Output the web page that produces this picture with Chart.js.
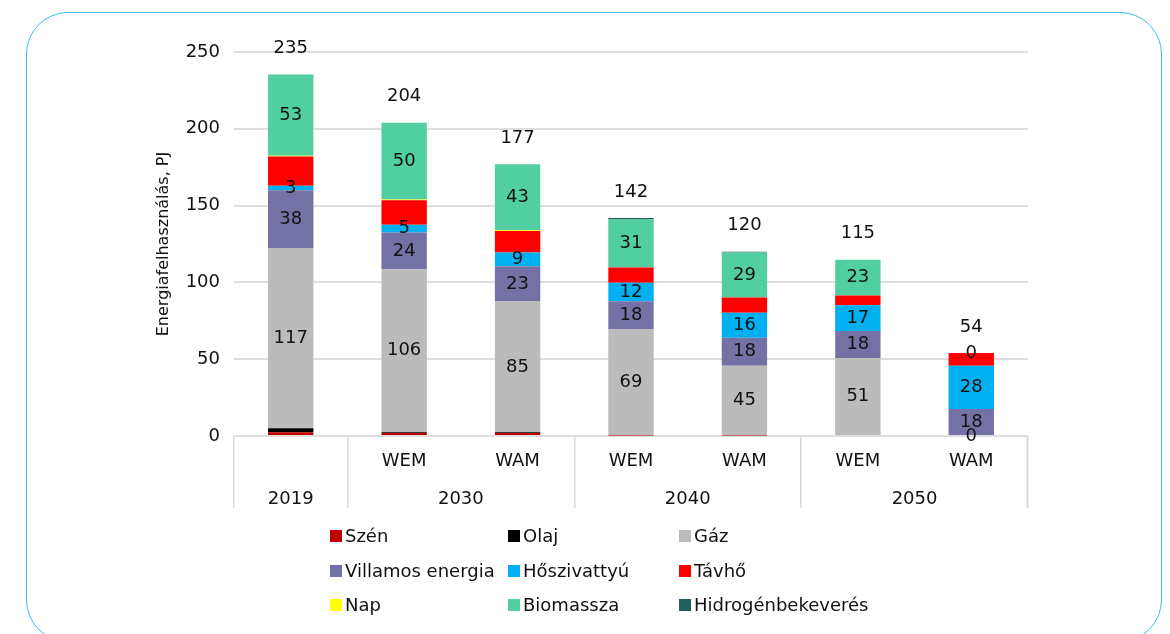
<!DOCTYPE html>
<html><head><meta charset="utf-8">
<script src="https://cdn.jsdelivr.net/npm/chart.js@4.4.1/dist/chart.umd.min.js"></script>
<style>
html,body{margin:0;padding:0;background:#fff;}
body{width:1170px;height:634px;position:relative;overflow:hidden;font-family:'DejaVu Sans',sans-serif;}
#frame{position:absolute;left:26px;top:12px;width:1136px;height:630px;border:1.6px solid #35C2E8;border-radius:42px;box-sizing:border-box;}
#wrap{position:absolute;left:0;top:0;width:1170px;height:520px;}
#legend{position:absolute;left:0;top:0;width:1170px;height:634px;}
.li{position:absolute;display:flex;align-items:center;font-size:18px;color:#111;white-space:nowrap;height:24px;line-height:24px;}
.sw{width:12px;height:12px;margin-right:3px;flex:none;}
</style></head><body>
<div id="frame"></div>
<div id="wrap"><canvas id="c" width="1170" height="520"></canvas></div>
<div id="legend"></div>
<script>
// ---- data ----
const categories = ['', 'WEM', 'WAM', 'WEM', 'WAM', 'WEM', 'WAM'];
const years = ['2019', '2030', '2040', '2050'];
const yearGroupSizes = [1, 2, 2, 2];
const yTicks = [0, 50, 100, 150, 200, 250];
const yTitle = 'Energiafelhasználás, PJ';

const szen        = [2.5, 2,   2,   0.4,  0.4,  0,    0];
const olaj        = [2.5, 0.5, 0.5, 0,    0,    0,    0];
const gaz         = [117, 106, 85,  69.3, 45.4, 50.6, 0];
const villamos    = [38,  24,  23,  18,   18.2, 17.8, 17.6];
const hoszivattyu = [3,   5,   9,   12,   16.2, 16.7, 28.2];
const tavho       = [19,  16,  14,  10,   10,   6.3,  8.2];
const nap         = [0.4, 0.4, 0.4, 0,    0,    0,    0];
const biomassza   = [53,  50,  43,  31.3, 29.2, 23.4, 0];
const hidrogen    = [0,   0,   0,   1,    0.6,  0,    0];

const seriesNames = ['Szén', 'Olaj', 'Gáz', 'Villamos energia', 'Hőszivattyú', 'Távhő', 'Nap', 'Biomassza', 'Hidrogénbekeverés'];
const seriesValues = [szen, olaj, gaz, villamos, hoszivattyu, tavho, nap, biomassza, hidrogen];
const seriesColors = ['#C00000', '#000000', '#BBBBBB', '#7472A4', '#00B0F0', '#FF0000', '#FFFF00', '#52CFA0', '#1F5F60'];
const labelledSeries = ['Gáz', 'Villamos energia', 'Hőszivattyú', 'Biomassza'];

// ---- derived ----
const FONT = "'DejaVu Sans', sans-serif";
Chart.defaults.font.family = FONT;
Chart.defaults.color = '#111';
const SEP_COLOR = '#D9D9D9';
const SEP_LEN = 72;

const boundaries = new Set();
const yearCenters = [];
{ let s = 0; yearGroupSizes.forEach(n => { boundaries.add(s); yearCenters.push(s + (n - 1) / 2); s += n; }); boundaries.add(s); }

const datasets = seriesNames.map((name, i) => ({
  label: name,
  data: seriesValues[i],
  backgroundColor: seriesColors[i],
  borderWidth: 0,
  categoryPercentage: 1,
  barPercentage: 0.4,
  stack: 's'
}));

const valueLabels = {
  id: 'valueLabels',
  afterDraw(chart) {
    // closing separator at the right end of the category axis
    const xs = chart.scales.x;
    const ctx = chart.ctx;
    ctx.save();
    ctx.strokeStyle = SEP_COLOR;
    ctx.lineWidth = 1.5;
    ctx.beginPath();
    ctx.moveTo(Math.round(xs.right) - 0.75, xs.top);
    ctx.lineTo(Math.round(xs.right) - 0.75, xs.top + SEP_LEN);
    ctx.stroke();
    ctx.restore();
  },
  afterDatasetsDraw(chart) {
    const ctx = chart.ctx;
    ctx.save();
    ctx.font = '18px ' + FONT;
    ctx.fillStyle = '#111';
    ctx.textAlign = 'center';
    ctx.textBaseline = 'middle';
    chart.data.datasets.forEach((ds, di) => {
      if (!labelledSeries.includes(ds.label)) return;
      const meta = chart.getDatasetMeta(di);
      meta.data.forEach((bar, i) => {
        ctx.fillText(String(Math.round(ds.data[i])), bar.x, (bar.y + bar.base) / 2);
      });
    });
    const meta0 = chart.getDatasetMeta(0);
    chart.data.labels.forEach((c, i) => {
      const total = chart.data.datasets.reduce((s, ds) => s + ds.data[i], 0);
      const yTop = chart.scales.y.getPixelForValue(total);
      ctx.fillText(String(Math.round(total)), meta0.data[i].x, yTop - 26);
    });
    ctx.restore();
  }
};

const chart = new Chart(document.getElementById('c'), {
  type: 'bar',
  data: { labels: categories, datasets },
  plugins: [valueLabels],
  options: {
    responsive: false,
    devicePixelRatio: 1,
    animation: false,
    layout: { padding: { left: 154, right: 142, top: 52, bottom: 8 } },
    plugins: { legend: { display: false }, tooltip: { enabled: false } },
    scales: {
      x: {
        type: 'category',
        stacked: true,
        position: 'bottom',
        weight: 0,
        border: { display: false },
        afterFit: s => { s.height = 36; },
        grid: {
          offset: true,
          drawOnChartArea: false,
          drawTicks: true,
          tickLength: SEP_LEN,
          lineWidth: 1.5,
          color: c => (c.index === undefined || boundaries.has(c.index)) ? SEP_COLOR : 'rgba(0,0,0,0)'
        },
        ticks: { padding: -57, font: { size: 18 }, color: '#111', maxRotation: 0, autoSkip: false }
      },
      x2: {
        type: 'linear',
        position: 'bottom',
        weight: 1,
        offset: false,
        min: -0.5,
        max: categories.length - 0.5,
        border: { display: false },
        grid: { display: false },
        afterFit: s => { s.height = 40; },
        afterBuildTicks: s => { s.ticks = yearCenters.map(v => ({ value: v })); },
        ticks: { padding: 9, font: { size: 18 }, color: '#111', maxRotation: 0, autoSkip: false,
                 callback: (v, i) => years[i] }
      },
      y: {
        stacked: true,
        min: yTicks[0],
        max: yTicks[yTicks.length - 1],
        border: { display: false },
        afterFit: s => { s.width = 80; },
        afterBuildTicks: s => { s.ticks = yTicks.map(v => ({ value: v })); },
        grid: { color: '#DEDEDE', lineWidth: 2, drawTicks: false },
        ticks: { padding: 14, font: { size: 18 }, color: '#111' },
        title: { display: true, text: yTitle, font: { size: 16 }, padding: 0, color: '#111' }
      }
    }
  }
});

// ---- legend (built from chart datasets) ----
const legendCols = [330, 508, 679];
const legendRows = [536, 571, 605];
const lg = document.getElementById('legend');
chart.data.datasets.forEach((ds, i) => {
  const d = document.createElement('div');
  d.className = 'li';
  d.style.left = legendCols[i % 3] + 'px';
  d.style.top = (legendRows[Math.floor(i / 3)] - 12) + 'px';
  const sw = document.createElement('span');
  sw.className = 'sw';
  sw.style.background = ds.backgroundColor;
  const t = document.createElement('span');
  t.textContent = ds.label;
  d.appendChild(sw); d.appendChild(t);
  lg.appendChild(d);
});
</script>
</body></html>
